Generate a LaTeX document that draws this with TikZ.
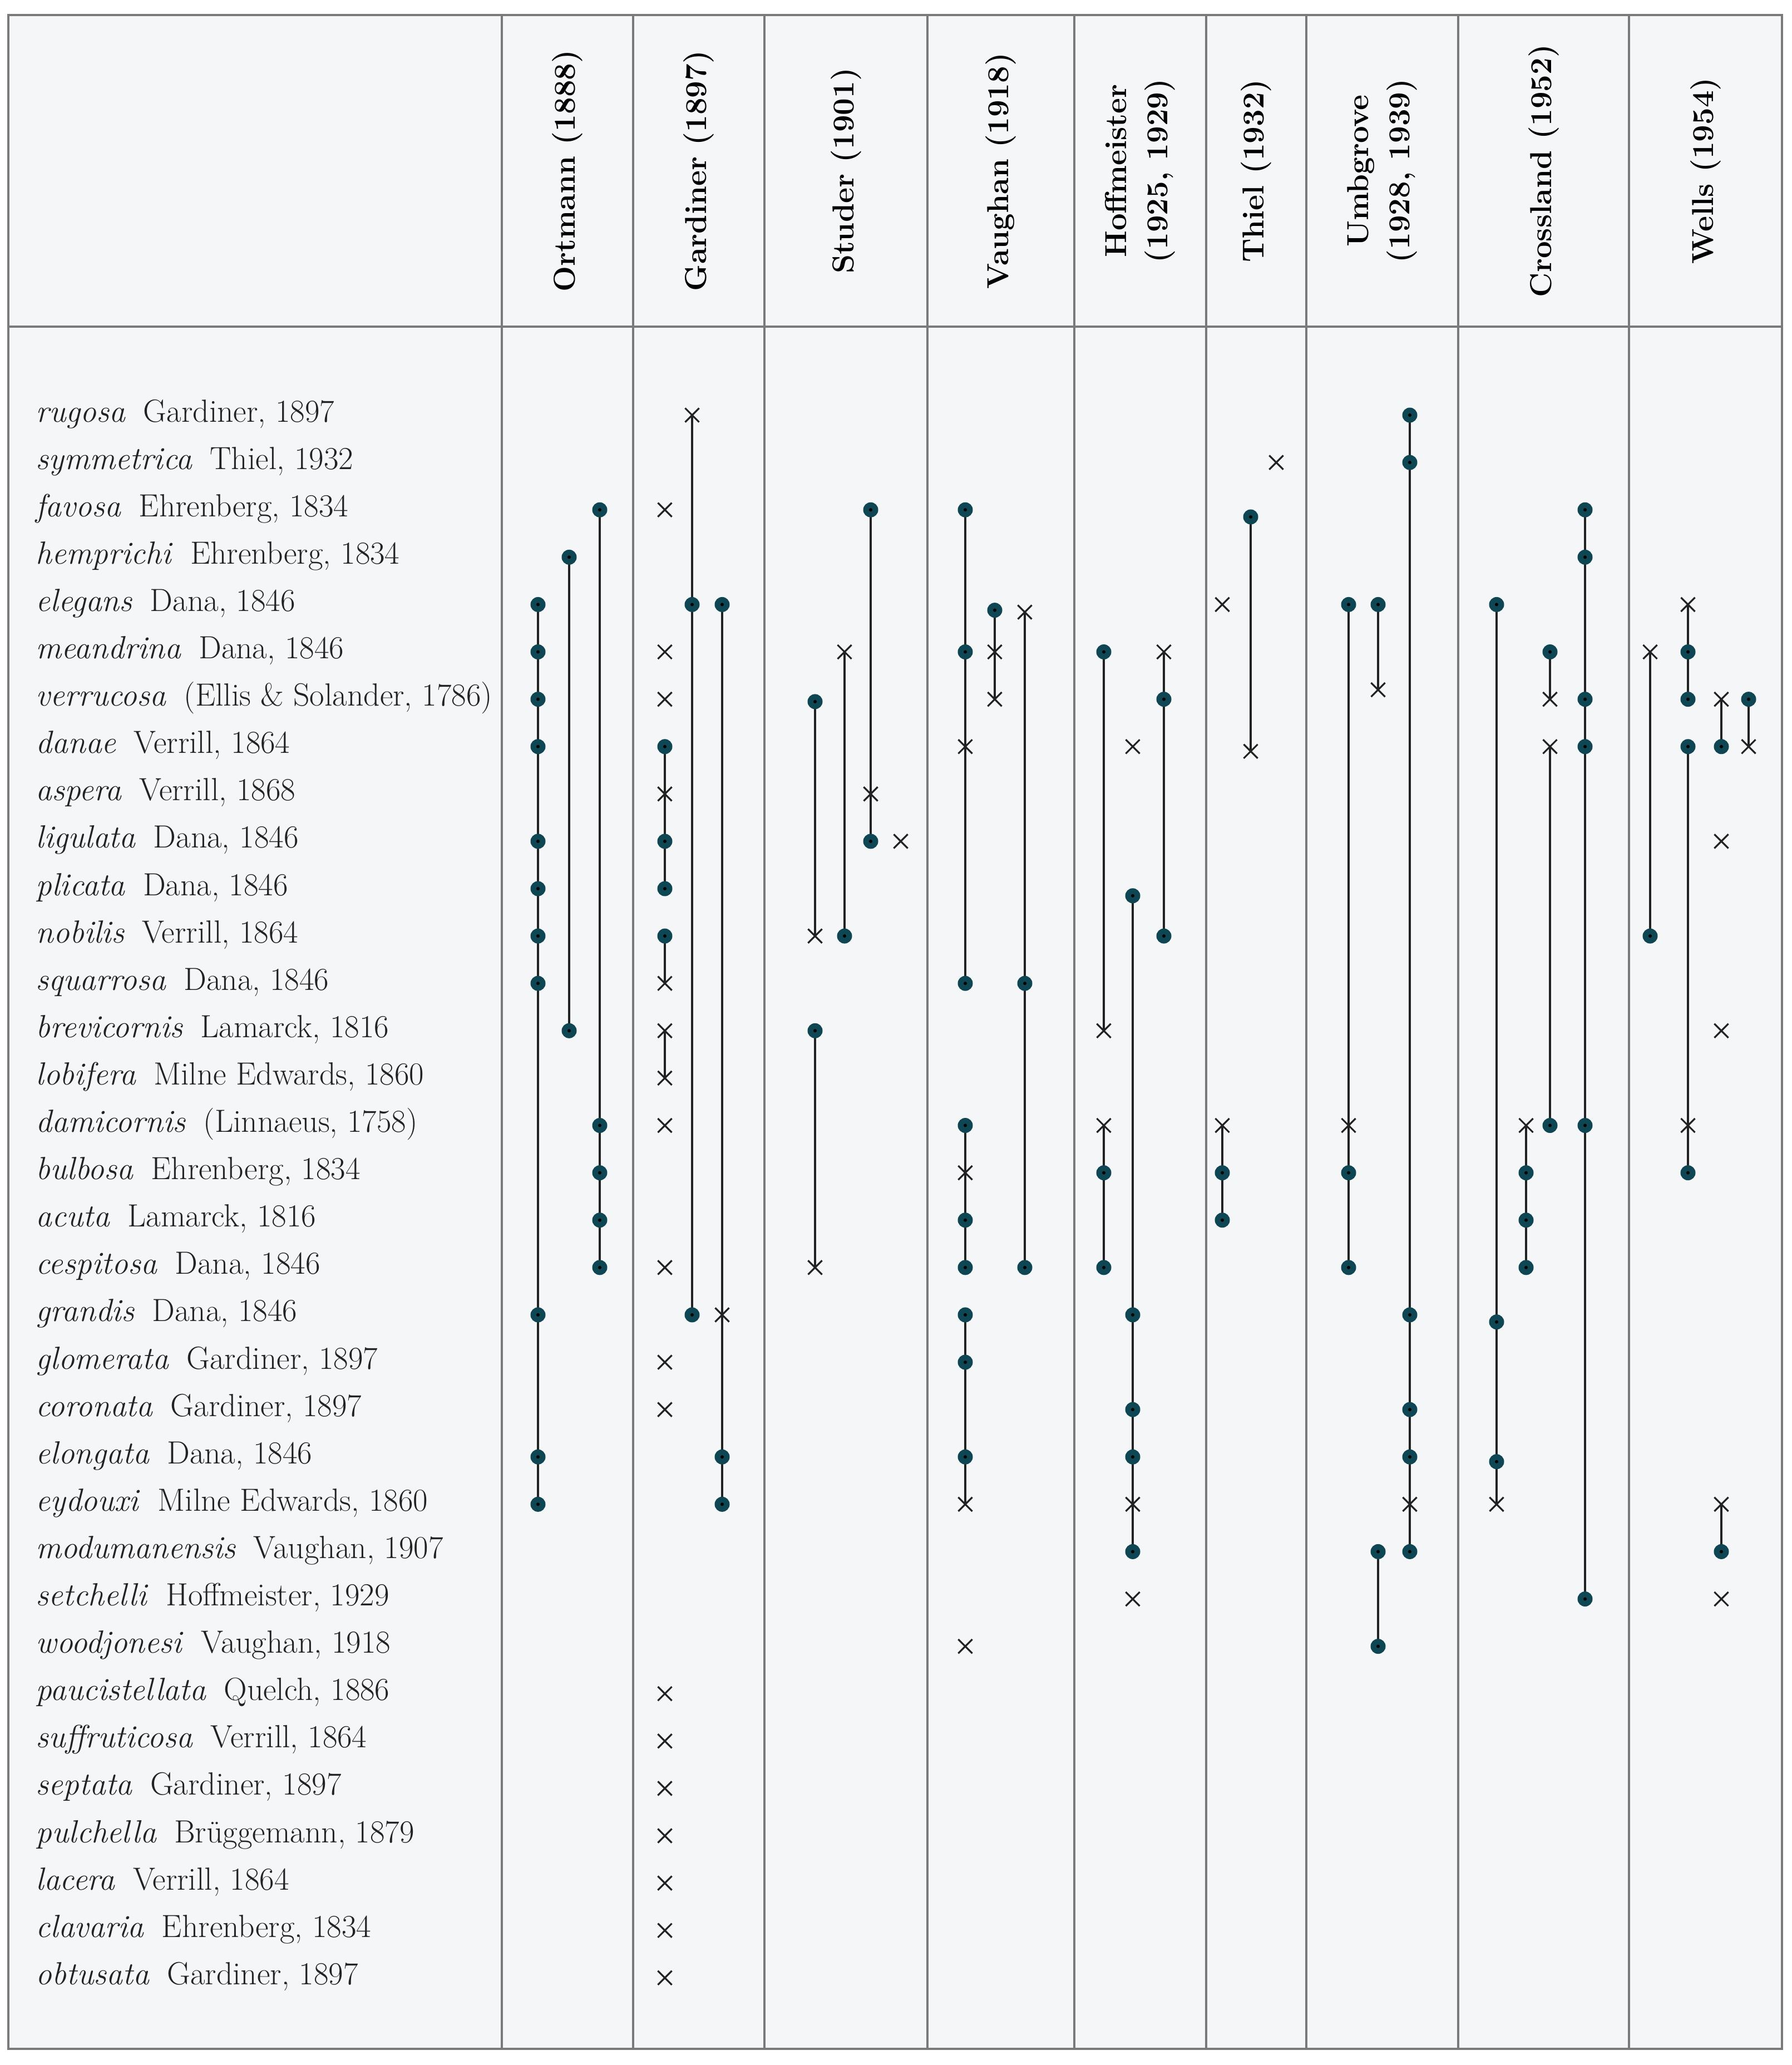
\documentclass[tikz,border=0pt]{standalone}
\usepackage{fontspec}
\usetikzlibrary{shapes.misc}

\definecolor{tablebg}{HTML}{F5F6F8}
\definecolor{rulegray}{HTML}{7A7A7A}
\definecolor{dotteal}{HTML}{0E4654}
\definecolor{inkgray}{HTML}{222222}

\pgfdeclarelayer{grid}
\pgfdeclarelayer{links}
\pgfsetlayers{grid,links,main}

\tikzset{
  dot/.style={circle, fill=dotteal, inner sep=0pt, minimum size=2.7mm,
    path picture={\fill[black] (path picture bounding box.center) circle (0.3mm);}},
  crs/.style={cross out, draw=inkgray, line width=0.9pt, inner sep=0pt, minimum size=2.2mm},
  bar/.style={draw=inkgray, line width=1.15pt},
  rule/.style={draw=rulegray, line width=0.9pt},
  spname/.style={anchor=base west, inner sep=0pt, text=inkgray,
    font=\fontsize{16.4}{19}\selectfont},
  author/.style={rotate=90, align=center, inner sep=0pt, text=black,
    font=\fontsize{15.5}{21}\selectfont\bfseries},
}

% marks of one sub-column: prefix, x, list of row/style
\newcommand{\mcol}[3]{%
  \foreach \r/\t [count=\k] in {#3}
    \node[\t] (#1-\k) at (#2, {-(7.46+0.851*\r)}) {};}

\begin{document}
\begin{tikzpicture}
  \useasboundingbox (0,0) rectangle (32.2,-37.11);

  % table
  \begin{pgfonlayer}{grid}
    \fill[tablebg] (0.15,-0.27) rectangle (32.03,-36.82);
    \draw[rule] (0.15,-0.27) rectangle (32.03,-36.82);
    \draw[rule, line width=1.3pt] (0.15,-5.87) -- (32.03,-5.87);
    \foreach \x in {9.02,11.38,13.74,16.67,19.31,21.68,23.48,26.21,29.28}
      \draw[rule] (\x,-0.27) -- (\x,-36.82);
  \end{pgfonlayer}

  % column heads
  \foreach \x/\who [count=\k] in {10.20/{Ortmann (1888)}, 12.56/{Gardiner (1897)},
      15.205/{Studer (1901)}, 17.99/{Vaughan (1918)}, 20.495/{Hoffmeister\\(1925, 1929)},
      22.58/{Thiel (1932)}, 24.845/{Umbgrove\\(1928, 1939)}, 27.745/{Crossland (1952)},
      30.655/{Wells (1954)}}
    \node[author] (hd\k) at (\x,-3.07) {\who};

  % species
  \foreach \sp/\au [count=\i from 0] in {rugosa/{Gardiner, 1897}, symmetrica/{Thiel, 1932},
      favosa/{Ehrenberg, 1834}, hemprichi/{Ehrenberg, 1834}, elegans/{Dana, 1846},
      meandrina/{Dana, 1846}, verrucosa/{(Ellis \& Solander, 1786)}, danae/{Verrill, 1864},
      aspera/{Verrill, 1868}, ligulata/{Dana, 1846}, plicata/{Dana, 1846},
      nobilis/{Verrill, 1864}, squarrosa/{Dana, 1846}, brevicornis/{Lamarck, 1816},
      lobifera/{Milne Edwards, 1860}, damicornis/{(Linnaeus, 1758)},
      bulbosa/{Ehrenberg, 1834}, acuta/{Lamarck, 1816}, cespitosa/{Dana, 1846},
      grandis/{Dana, 1846}, glomerata/{Gardiner, 1897}, coronata/{Gardiner, 1897},
      elongata/{Dana, 1846}, eydouxi/{Milne Edwards, 1860}, modumanensis/{Vaughan, 1907},
      setchelli/{Hoffmeister, 1929}, woodjonesi/{Vaughan, 1918},
      paucistellata/{Quelch, 1886}, suffruticosa/{Verrill, 1864}, septata/{Gardiner, 1897},
      pulchella/{Brüggemann, 1879}, lacera/{Verrill, 1864}, clavaria/{Ehrenberg, 1834},
      obtusata/{Gardiner, 1897}}
    \node[spname] (sp\i) at (0.64, {-(7.58+0.851*\i)}) {\textit{\sp}\hspace{0.55em}\au};

  % Ortmann
  \mcol{oa}{9.67}{4/dot,5/dot,6/dot,7/dot,9/dot,10/dot,11/dot,12/dot,19/dot,22/dot,23/dot}
  \mcol{ob}{10.23}{3/dot,13/dot}
  \mcol{oc}{10.78}{2/dot,15/dot,16/dot,17/dot,18/dot}
  % Gardiner
  \mcol{ga}{11.95}{2/crs,5/crs,6/crs,7/dot,8/crs,9/dot,10/dot,11/dot,12/crs,13/crs,14/crs,
    15/crs,18/crs,20/crs,21/crs,27/crs,28/crs,29/crs,30/crs,31/crs,32/crs,33/crs}
  \mcol{gb}{12.44}{0/crs,4/dot,19/dot}
  \mcol{gc}{12.98}{4/dot,19/crs,22/dot,23/dot}
  % Studer
  \mcol{sa}{14.65}{6.05/dot,11/crs,13/dot,18/crs}
  \mcol{sb}{15.18}{5/crs,11/dot}
  \mcol{sc}{15.65}{2/dot,8/crs,9/dot}
  \mcol{sd}{16.19}{9/crs}
  % Vaughan
  \mcol{va}{17.35}{2/dot,5/dot,7/crs,12/dot,15/dot,16/crs,17/dot,18/dot,19/dot,20/dot,
    22/dot,23/crs,26/crs}
  \mcol{vb}{17.88}{4.12/dot,5/crs,6/crs}
  \mcol{vc}{18.42}{4.16/crs,12/dot,18/dot}
  % Hoffmeister
  \mcol{ha}{19.84}{5/dot,13/crs,15/crs,16/dot,18/dot}
  \mcol{hb}{20.36}{7/crs,10.15/dot,19/dot,21/dot,22/dot,23/crs,24/dot,25/crs}
  \mcol{hc}{20.92}{5/crs,6/dot,11/dot}
  % Thiel
  \mcol{ta}{21.97}{4/crs,15/crs,16/dot,17/dot}
  \mcol{tb}{22.48}{2.15/dot,7.1/crs}
  \mcol{tc}{22.94}{1/crs}
  % Umbgrove
  \mcol{ua}{24.24}{4/dot,15/crs,16/dot,18/dot}
  \mcol{ub}{24.77}{4/dot,5.8/crs,24/dot,26/dot}
  \mcol{uc}{25.34}{0/dot,1/dot,19/dot,21/dot,22/dot,23/crs,24/dot}
  % Crossland
  \mcol{ca}{26.90}{4/dot,19.15/dot,22.1/dot,23/crs}
  \mcol{cb}{27.43}{15/crs,16/dot,17/dot,18/dot}
  \mcol{cc}{27.86}{5/dot,6/crs,7/crs,15/dot}
  \mcol{cd}{28.49}{2/dot,3/dot,6/dot,7/dot,15/dot,25/dot}
  % Wells
  \mcol{wa}{29.66}{5/crs,11/dot}
  \mcol{wb}{30.34}{4/crs,5/dot,6/dot,7/dot,15/crs,16/dot}
  \mcol{wc}{30.94}{6/crs,7/dot,9/crs,13/crs,23/crs,24/dot,25/crs}
  \mcol{wd}{31.43}{6/dot,7/crs}

  % ranges
  \begin{pgfonlayer}{links}
    \foreach \a/\b in {oa-1/oa-11, ob-1/ob-2, oc-1/oc-5,
        ga-4/ga-7, ga-8/ga-9, ga-10/ga-11, gb-1/gb-3, gc-1/gc-4,
        sa-1/sa-2, sa-3/sa-4, sb-1/sb-2, sc-1/sc-3,
        va-1/va-4, va-5/va-8, va-9/va-12, vb-1/vb-3, vc-1/vc-3,
        ha-1/ha-2, ha-3/ha-5, hb-2/hb-7, hc-1/hc-3,
        ta-2/ta-4, tb-1/tb-2,
        ua-1/ua-4, ub-1/ub-2, ub-3/ub-4, uc-1/uc-7,
        ca-1/ca-4, cb-1/cb-4, cc-1/cc-2, cc-3/cc-4, cd-1/cd-6,
        wa-1/wa-2, wb-1/wb-3, wb-4/wb-6, wc-1/wc-2, wc-5/wc-6, wd-1/wd-2}
      \draw[bar] (\a.center) -- (\b.center);
  \end{pgfonlayer}
\end{tikzpicture}
\end{document}
